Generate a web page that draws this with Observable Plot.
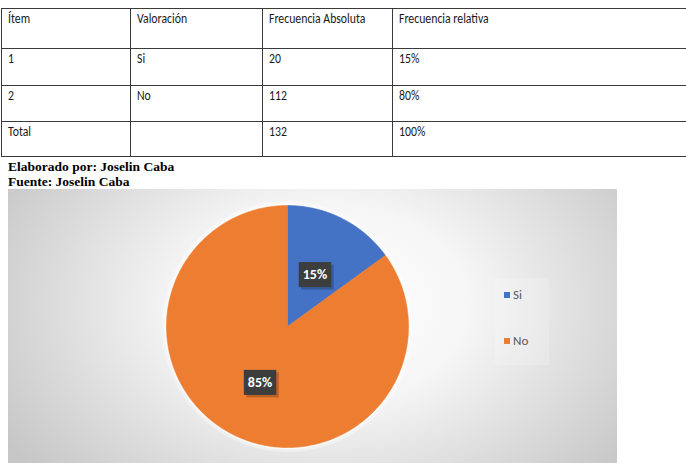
<!DOCTYPE html>
<html><head><meta charset="utf-8">
<script src="https://cdn.jsdelivr.net/npm/d3@7"></script>
<script src="https://cdn.jsdelivr.net/npm/@observablehq/plot@0.6"></script>
<style>
body{margin:0;background:#fff;}
#page{position:relative;width:686px;height:463px;overflow:hidden;background:#fff;}
table{position:absolute;left:1px;top:8px;border-collapse:collapse;width:780px;table-layout:fixed;font-family:Carlito,Calibri,Lato,sans-serif;font-size:14px;color:#1a1a1a;}
td{border:1px solid #3a3a3a;vertical-align:top;padding:1px 6px;line-height:18px;white-space:nowrap;}
td span{display:inline-block;transform:scaleX(0.84);transform-origin:0 50%;}
#src{position:absolute;left:8px;top:159px;font-family:"Liberation Serif","Times New Roman",serif;font-weight:bold;font-size:13.5px;line-height:15px;color:#000;}
#chart{position:absolute;left:8px;top:189px;width:609px;height:274px;
 background:radial-gradient(ellipse 62% 95% at 52% 42%, #ffffff 0%, #f6f6f6 38%, #c6c6c6 100%);}
#legbox{position:absolute;left:487px;top:89px;width:54px;height:87px;background:rgba(255,255,255,0.18);}
#legend{position:absolute;left:490px;top:98px;font-family:Carlito,Calibri,Lato,sans-serif;font-size:13px;color:#595959;}
.li{position:absolute;left:6px;white-space:nowrap;line-height:15px;}
.sw{display:inline-block;width:6px;height:6px;margin-right:3px;vertical-align:1px;}
</style></head>
<body>
<div id="page">
  <table id="tbl"></table>
  <div id="src"></div>
  <div id="chart"><div id="legbox"></div><div id="legend"></div></div>
</div>
<script>
// ---- data ----
const headers = ["Ítem", "Valoración", "Frecuencia Absoluta", "Frecuencia relativa"];
const items = ["1", "2", "Total"];
const valoracion = ["Si", "No", ""];
const frecAbsoluta = ["20", "112", "132"];
const frecRelativa = ["15%", "80%", "100%"];
const sourceLines = ["Elaborado por: Joselin Caba", "Fuente: Joselin Caba"];

const categories = ["Si", "No"];
const pieValues = [15, 85];
const pieLabels = ["15%", "85%"];
const colors = ["#4472C4", "#ED7D31"];

// ---- table ----
const colW = [129, 132, 130, 389];
const rowH = [40, 37, 36, 35];
const tbl = document.getElementById("tbl");
const cg = document.createElement("colgroup");
colW.forEach(w => { const c = document.createElement("col"); c.style.width = w + "px"; cg.appendChild(c); });
tbl.appendChild(cg);
const rows = [headers].concat(items.map((d, i) => [d, valoracion[i], frecAbsoluta[i], frecRelativa[i]]));
rows.forEach((r, ri) => {
  const tr = document.createElement("tr");
  tr.style.height = rowH[ri] + "px";
  r.forEach(v => {
    const td = document.createElement("td");
    const sp = document.createElement("span");
    sp.textContent = v;
    td.appendChild(sp);
    tr.appendChild(td);
  });
  tbl.appendChild(tr);
});
document.getElementById("src").innerHTML = sourceLines.map(s => "<div>" + s + "</div>").join("");

// ---- legend ----
const legend = document.getElementById("legend");
categories.forEach((c, i) => {
  const d = document.createElement("div");
  d.className = "li";
  d.style.top = (i * 46) + "px";
  d.innerHTML = `<span class="sw" style="background:${colors[i]}"></span>${c}`;
  legend.appendChild(d);
});

// ---- pie geometry from data ----
const arcs = d3.pie().sort(null).value(d => d)(pieValues);
const points = [];
arcs.forEach((a, i) => {
  const cat = categories[i];
  points.push({cat, x: 0, y: 0});
  const n = Math.max(2, Math.ceil((a.endAngle - a.startAngle) / (Math.PI / 180)));
  for (let k = 0; k <= n; k++) {
    const t = a.startAngle + (a.endAngle - a.startAngle) * k / n;
    points.push({cat, x: Math.sin(t), y: Math.cos(t)});
  }
  points.push({cat, x: 0, y: 0});
});
const labels = arcs.map((a, i) => {
  const m = (a.startAngle + a.endAngle) / 2;
  return {cat: categories[i], label: pieLabels[i], x: 0.5 * Math.sin(m), y: 0.5 * Math.cos(m)};
});

const plot = Plot.plot({
  width: 609, height: 274,
  marginLeft: 158, marginRight: 209, marginTop: 16, marginBottom: 16,
  x: {domain: [-1, 1], axis: null},
  y: {domain: [-1, 1], axis: null},
  color: {domain: categories, range: colors},
  style: {background: "transparent", overflow: "visible"},
  marks: [
    Plot.line(points, {x: "x", y: "y", z: "cat", stroke: "white", strokeWidth: 9, strokeOpacity: 0.35, curve: "linear"}),
    Plot.line(points, {x: "x", y: "y", z: "cat", stroke: "white", strokeWidth: 4, strokeOpacity: 0.5, curve: "linear"}),
    Plot.line(points, {x: "x", y: "y", z: "cat", fill: "cat", stroke: "cat", strokeWidth: 0.6, curve: "linear"}),
    Plot.text(labels, {x: "x", y: "y", dy: 2, text: "label", fill: "white", fontWeight: "bold", fontSize: 14,
      fontFamily: "Carlito,Calibri,Lato,sans-serif"})
  ]
});
const chart = document.getElementById("chart");
plot.style.position = "absolute";
plot.style.left = "0px";
plot.style.top = "0px";
chart.insertBefore(plot, chart.firstChild);

plot.querySelectorAll('g[aria-label="text"] text').forEach(t => {
  const b = t.getBBox();
  const tr = t.getAttribute("transform");
  const mk = (dx, dy, fill, op) => {
    const r = document.createElementNS("http://www.w3.org/2000/svg", "rect");
    r.setAttribute("x", b.x - 4 + dx);
    r.setAttribute("y", b.y - 4 + dy);
    r.setAttribute("width", b.width + 8);
    r.setAttribute("height", b.height + 8);
    r.setAttribute("fill", fill);
    r.setAttribute("fill-opacity", op);
    r.setAttribute("stroke", "none");
    if (tr) r.setAttribute("transform", tr);
    t.parentNode.insertBefore(r, t);
  };
  mk(2.5, 2.5, "#000", 0.22);
  mk(0, 0, "#3d3d3d", 1);
});
</script>
</body></html>
